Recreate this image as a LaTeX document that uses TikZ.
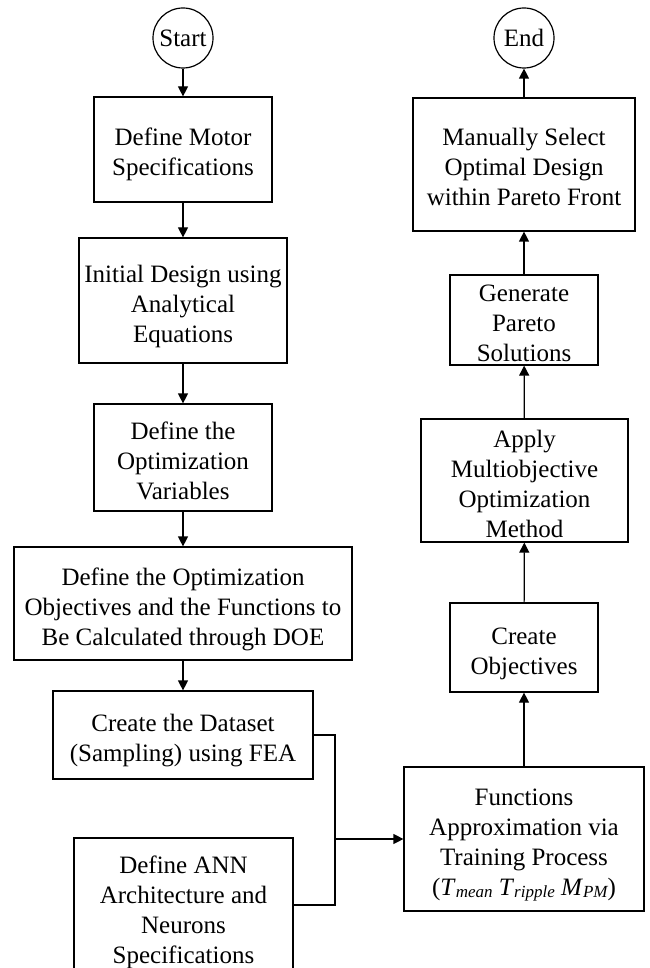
\documentclass[tikz,border=0pt]{standalone}
\usepackage{fontspec}
\setmainfont{Liberation Serif}
\usetikzlibrary{arrows.meta}
\tikzset{
  stepbox/.style={draw, line width=1.2pt, align=center, inner sep=0pt,
    font=\fontsize{25}{30}\selectfont},
  term/.style={draw, circle, line width=1.2pt, inner sep=0pt, minimum size=60pt,
    font=\fontsize{25}{30}\selectfont},
  flow/.style={line width=1.2pt, -{Triangle[length=10pt,width=10pt]}},
  link/.style={line width=1.2pt}
}
\newcommand{\subit}[1]{\raisebox{-1.5pt}{\fontsize{17}{17}\selectfont\itshape #1}}
\newcommand{\btext}[1]{\raisebox{-5.5pt}[\height][\depth]{\begin{tabular}{@{}c@{}}#1\end{tabular}}}
\begin{document}
\begin{tikzpicture}[x=1pt,y=-1pt]
\useasboundingbox (0,0) rectangle (649,968);
% left column
\node[term] (start) at (183,38) {Start};
\node[stepbox, minimum width=178pt, minimum height=105pt] (motor) at (183,149.5) {\btext{Define Motor\\Specifications}};
\node[stepbox, minimum width=208pt, minimum height=125pt] (init) at (183,300.5) {\btext{Initial Design using\\Analytical\\Equations}};
\node[stepbox, minimum width=178pt, minimum height=107pt] (vars) at (183,457.5) {\btext{Define the\\Optimization\\Variables}};
\node[stepbox, minimum width=338pt, minimum height=113pt] (obj) at (183,603.5) {\btext{Define the Optimization\\Objectives and the Functions to\\Be Calculated through DOE}};
\node[stepbox, minimum width=260pt, minimum height=88pt] (data) at (183,735) {\btext{Create the Dataset\\(Sampling) using FEA}};
\node[stepbox, minimum width=219pt, minimum height=138pt] (ann) at (183.5,907) {\btext{Define ANN\\Architecture and\\Neurons\\Specifications}};
% right column
\node[term] (end) at (524,38) {End};
\node[stepbox, minimum width=222pt, minimum height=133pt] (manual) at (524,164.5) {\btext{Manually Select\\Optimal Design\\within Pareto Front}};
\node[stepbox, minimum width=148pt, minimum height=88pt] (gen) at (524,320) {\btext{Generate\\Pareto\\Solutions}};
\node[stepbox, minimum width=207pt, minimum height=123pt] (apply) at (524.5,480.5) {\btext{Apply\\Multiobjective\\Optimization\\Method}};
\node[stepbox, minimum width=148pt, minimum height=89pt] (create) at (524,647.5) {\btext{Create\\Objectives}};
\node[stepbox, minimum width=240pt, minimum height=144pt] (func) at (524,839) {\btext{Functions\\Approximation via\\Training Process\\(\textit{T}\subit{mean} \textit{T}\subit{ripple} \textit{M}\subit{PM})}};
% junction coordinates
\coordinate (jtop) at (335,735);
\coordinate (jbot) at (335,905);
\coordinate (jmid) at (335,839);
% arrows left
\draw[flow] (start) -- (motor);
\draw[flow] (motor) -- (init);
\draw[flow] (init) -- (vars);
\draw[flow] (vars) -- (obj);
\draw[flow] (obj) -- (data);
% merge
\draw[link] (data.east) -- (jtop) -- (jbot) -- (jbot -| ann.east);
\draw[flow] (jmid) -- (func.west);
% arrows right
\draw[flow] (func) -- (create);
\draw[flow] (create) -- (apply);
\draw[flow] (apply) -- (gen);
\draw[flow] (gen) -- (manual);
\draw[flow] (manual) -- (end);
\end{tikzpicture}
\end{document}
